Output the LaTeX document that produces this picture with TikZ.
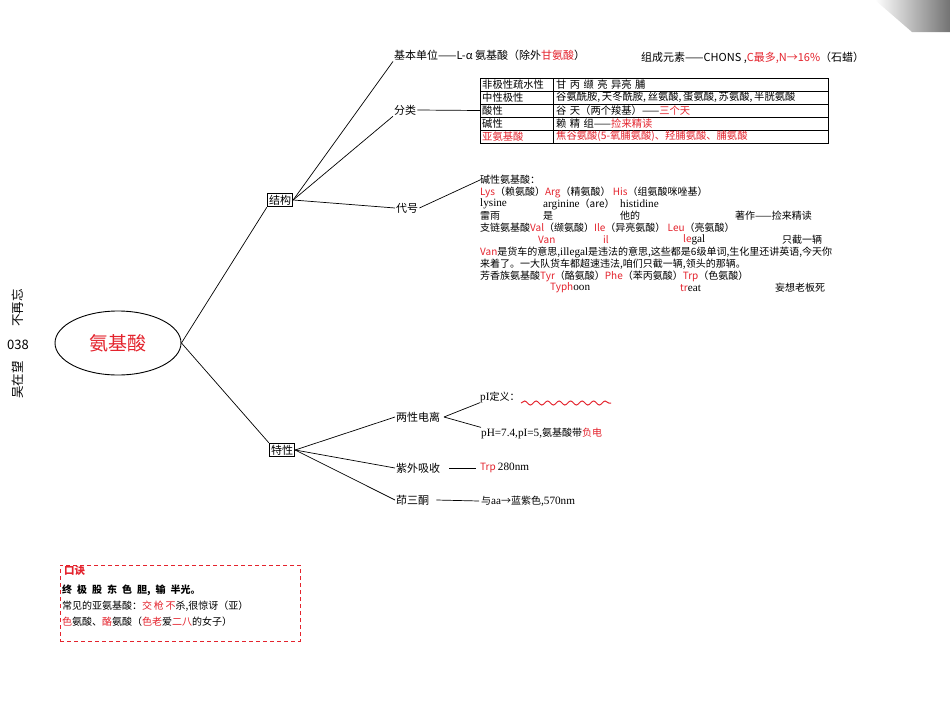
\documentclass[tikz,border=0pt]{standalone}
\usepackage{fontspec}
\setmainfont{Noto Sans CJK SC}
\newfontfamily\lat{Liberation Serif}[Scale=1.12]
\usetikzlibrary{shapes.geometric,decorations.pathmorphing}
\definecolor{myred}{RGB}{228,35,45}
\newcommand{\R}[1]{\textcolor{myred}{#1}}
\begin{document}
\begin{tikzpicture}[x=1pt,y=-1pt,
  txt/.style={inner sep=0pt, anchor=west, font=\fontsize{10}{12}\selectfont},
  lbl/.style={inner sep=1pt, anchor=west, font=\fontsize{11}{13}\selectfont},
  tbl/.style={inner sep=0pt, anchor=west, font=\fontsize{10.3}{11}\selectfont},
  catbox/.style={draw, line width=1.3pt, inner sep=1.5pt, font=\fontsize{11}{13}\selectfont},
  conn/.style={draw, line width=0.7pt},
  kjbox/.style={draw=myred, dashed, line width=1pt, dash pattern=on 4pt off 3pt}]
\useasboundingbox (0,0) rectangle (950,715);
\fill[white] (0,0) rectangle (950,715);
% scan corner shade
\shade[left color=white, right color=black!55] (875,0) -- (950,0) -- (950,32) -- (912,32) -- cycle;

% side text
\node[rotate=90, font=\fontsize{12.5}{12}\selectfont] (s1) at (18,308) {不再忘};
\node[font=\fontsize{13}{13}\selectfont] (s2) at (18,345) {038};
\node[rotate=90, font=\fontsize{12.5}{12}\selectfont] (s3) at (18,380) {吴在望};

% root
\node[ellipse, draw, line width=0.9pt, minimum width=126pt, minimum height=64pt, text=myred, font=\fontsize{19}{20}\selectfont] (root) at (118,343) {氨基酸};

% categories
\node[catbox] (jg) at (280,200) {结构};
\node[catbox] (tx) at (282,450) {特性};
\draw[conn] (root.east) -- (jg.south west);
\draw[conn] (root.east) -- (tx.north west);

% structure branch
\node[lbl] (jbdw) at (393,55) {基本单位——L-α 氨基酸（除外\R{甘氨酸}）};
\node[lbl] (zcys) at (640,58) {组成元素——CHONS ,\R{C最多,N→16\%}（石蜡）};
\node[lbl] (fl) at (393,110) {分类};
\node[lbl] (dh) at (395,208) {代号};
\draw[conn] (jg.east) -- (jbdw.south west);
\draw[conn] (jg.east) -- (fl.south west);
\draw[conn] (jg.east) -- (dh.west);

% table
\coordinate (tl) at (480,78);
\coordinate (tr) at (828,78);
\draw[line width=0.8pt] (480,78) rectangle (828,143);
\foreach \yy in {91,104,117,130} \draw[line width=0.8pt] (480,\yy) -- (828,\yy);
\draw[line width=0.8pt] (553,78) -- (553,143);
\node[tbl] (t1a) at (482,84.5) {非极性疏水性};
\node[tbl] (t1b) at (556,84.5) {甘\,\,丙\,\,缬\,\,亮\,\,异亮\,\,脯};
\node[tbl] (t2a) at (482,97.5) {中性极性};
\node[tbl] (t2b) at (556,97.5) {谷氨酰胺,\,天冬酰胺,\,丝氨酸,\,蛋氨酸,\,苏氨酸,\,半胱氨酸};
\node[tbl] (t3a) at (482,110.5) {酸性};
\node[tbl] (t3b) at (556,110.5) {谷\,\,天（两个羧基）——\R{三个天}};
\node[tbl] (t4a) at (482,123.5) {碱性};
\node[tbl] (t4b) at (556,123.5) {赖\,\,精\,\,组——\R{捡来精读}};
\node[tbl] (t5a) at (482,136.5) {\R{亚氨基酸}};
\node[tbl] (t5b) at (556,136.5) {\R{焦谷氨酸(5-氧脯氨酸)、羟脯氨酸、脯氨酸}};
\draw[conn] (fl.east) -- (t3a.west -| tl);

% code block
\node[txt] (n1) at (480,180) {碱性氨基酸：};
\draw[conn] (dh.east) -- (n1.west);
\node[txt] (n2) at (480,192) {\R{Lys}（赖氨酸）\R{Arg}（精氨酸） \R{His}（组氨酸咪唑基）};
\node[txt] (n3a) at (480,204) {\lat lysine};
\node[txt] (n3b) at (543,204) {{\lat arginine}（are）};
\node[txt] (n3c) at (620,204) {\lat histidine};
\node[txt] (n4a) at (480,216) {雷雨};
\node[txt] (n4b) at (543,216) {是};
\node[txt] (n4c) at (620,216) {他的};
\node[txt] (n4d) at (735,216) {著作——捡来精读};
\node[txt] (n5) at (480,228) {支链氨基酸\R{Val}（缬氨酸）\R{Ile}（异亮氨酸） \R{Leu}（亮氨酸）};
\node[txt] (n6a) at (538,240) {\R{Van}};
\node[txt] (n6b) at (603,240) {\R{il}};
\node[txt] (n6c) at (683,240) {\R{le}{\lat gal}};
\node[txt] (n6d) at (782,240) {只截一辆};
\node[txt] (n7) at (480,252) {\R{Van}是货车的意思,{\lat illegal}是违法的意思,这些都是6级单词,生化里还讲英语,今天你};
\node[txt] (n8) at (480,264) {来着了。一大队货车都超速违法,咱们只截一辆,领头的那辆。};
\node[txt] (n9) at (480,276) {芳香族氨基酸\R{Tyr}（酪氨酸）\R{Phe}（苯丙氨酸）\R{Trp}（色氨酸）};
\node[txt] (n10a) at (550,288) {\R{Typh}{\lat oon}};
\node[txt] (n10b) at (680,288) {\R{tr}{\lat eat}};
\node[txt] (n10c) at (775,288) {妄想老板死};

% property branch
\node[lbl] (lxdl) at (395,417) {两性电离};
\node[lbl] (zwxs) at (395,468) {紫外吸收};
\node[lbl] (nst) at (395,500) {茚三酮};
\draw[conn] (tx.east) -- (lxdl.west);
\draw[conn] (tx.east) -- (zwxs.west);
\draw[conn] (tx.east) -- (nst.west);

\node[txt] (pi) at (480,397) {{\lat pI}定义：};
\node[txt] (ph) at (481,433) {{\lat pH=7.4,pI=5,}氨基酸带\R{负电}};
\coordinate (fork) at (444,417);
\draw[conn] (fork) -- (pi.south west);
\draw[conn] (fork) -- (ph.north west);
\coordinate (w1) at (521,403);
\coordinate (w2) at (611,403);
\draw[myred, line width=1pt, decorate, decoration={snake, segment length=11.5pt, amplitude=2pt}] (w1) -- (w2);

\node[txt] (trp) at (480,468) {\R{Trp} {\lat 280nm}};
\draw[conn] ([xshift=8pt]zwxs.east) -- ([xshift=-4pt]trp.west);
\node[txt] (zs) at (481,501) {与{\lat aa}→蓝紫色,{\lat 570nm}};
\draw[conn] ([xshift=6pt]nst.east) -- ([xshift=-2pt]zs.west);

% mnemonic box
\node[kjbox, minimum width=240pt, minimum height=76pt, inner sep=0pt] (kj) at (180,603) {};
\node[txt, text=myred, font=\fontsize{10.5}{12}\selectfont\bfseries] (k0) at (64,571) {口诀};
\node[txt, font=\fontsize{10}{12}\selectfont\bfseries] (k1) at (62,590) {终\hspace{5pt}极\hspace{5pt}股\hspace{5pt}东\hspace{5pt}色\hspace{5pt}胆,\hspace{5pt}输\hspace{5pt}半光。};
\node[txt] (k2) at (62,606) {常见的亚氨基酸：\R{交}\,\R{枪}\,\R{不}杀,很惊讶（亚）};
\node[txt] (k3) at (62,622) {\R{色}氨酸、\R{酪}氨酸（\R{色老}爱\R{二八}的女子）};
\end{tikzpicture}
\end{document}
